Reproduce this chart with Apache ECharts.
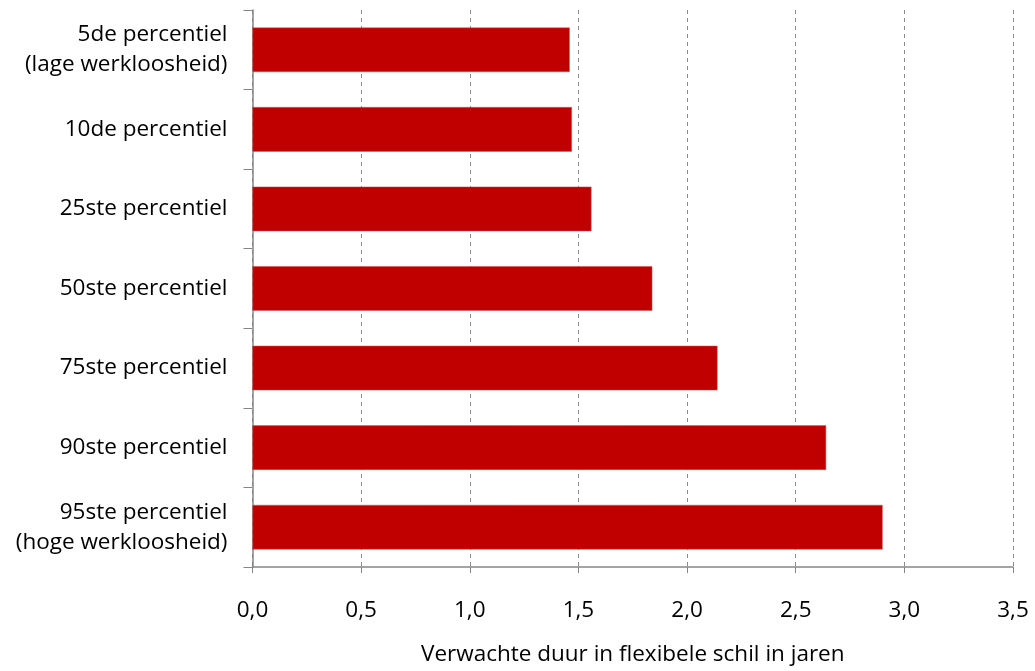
<!DOCTYPE html>
<html>
<head>
<meta charset="utf-8">
<script src="https://cdn.jsdelivr.net/npm/echarts@6/dist/echarts.min.js"></script>
<style>
html,body{margin:0;padding:0;background:#fff;}
#chart{width:1035px;height:671px;}
</style>
</head>
<body>
<div id="chart"></div>
<script>
const categories = [
  "5de percentiel\n(lage werkloosheid)",
  "10de percentiel",
  "25ste percentiel",
  "50ste percentiel",
  "75ste percentiel",
  "90ste percentiel",
  "95ste percentiel\n(hoge werkloosheid)"
];
const values = [1.46, 1.47, 1.56, 1.84, 2.14, 2.64, 2.90];
const xAxisTitle = "Verwachte duur in flexibele schil in jaren";

const FONT = "'Open Sans', 'Liberation Sans', sans-serif";
const FS = 22.5;
const chart = echarts.init(document.getElementById('chart'), null, {renderer: 'canvas'});
chart.setOption({
  animation: false,
  backgroundColor: '#ffffff',
  grid: {left: 252.5, right: 22, top: 10, bottom: 103, containLabel: false},
  xAxis: {
    type: 'value',
    min: 0, max: 3.5, interval: 0.5,
    name: xAxisTitle,
    nameLocation: 'middle',
    nameGap: 76,
    nameTextStyle: {fontFamily: FONT, fontSize: FS, color: '#000'},
    axisLine: {show: true, lineStyle: {color: '#868686', width: 1.5}},
    axisTick: {show: true, length: 6, lineStyle: {color: '#868686', width: 1}},
    axisLabel: {
      fontFamily: FONT, fontSize: FS, color: '#000', margin: 32,
      formatter: v => v.toFixed(1).replace('.', ',')
    },
    splitLine: {show: true, lineStyle: {color: '#8c8c8c', type: [4, 4], width: 1}}
  },
  yAxis: {
    type: 'category',
    data: categories,
    inverse: true,
    axisLine: {show: true, lineStyle: {color: '#868686', width: 1.5}},
    axisTick: {show: true, length: 9, lineStyle: {color: '#868686', width: 1}},
    axisLabel: {
      fontFamily: FONT, fontSize: FS, color: '#000', margin: 25,
      align: 'right', lineHeight: 30
    },
    splitLine: {show: false}
  },
  series: [{
    type: 'bar',
    data: values,
    barCategoryGap: '44%',
    itemStyle: {color: '#C00000', borderColor: '#d9534f', borderWidth: 0.5}
  }]
});
</script>
</body>
</html>
